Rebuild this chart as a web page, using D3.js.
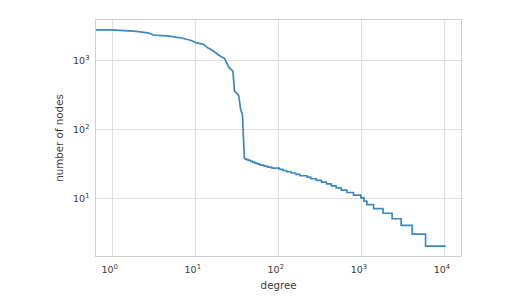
<!DOCTYPE html>
<html>
<head>
<meta charset="utf-8">
<script src="https://cdn.jsdelivr.net/npm/d3@7/dist/d3.min.js"></script>
<style>
  html, body { margin: 0; padding: 0; background: #ffffff; }
  svg { display: block; font-family: "DejaVu Sans", sans-serif; }
</style>
</head>
<body>
<svg id="chart" width="529" height="304"></svg>
<script>
// Head of the curve (drawn with straight segments)
const headDegree = [0, 1, 2, 2.83, 3.2, 3.73, 4.93, 7.15, 9.03, 10.4, 12.7, 14.3, 16.5, 19.5, 22.9, 25.7, 28.8, 30.1, 33.8, 35.7, 37.5, 39.6];
const headNodes  = [2740, 2740, 2600, 2450, 2300, 2270, 2215, 2070, 1918, 1776, 1700, 1500, 1374, 1174, 1051, 786, 688, 353, 308, 191, 162, 37];

// Tail of the curve (integer counts, drawn as steps: value holds from this degree to the next)
const tailDegree = [39.6, 42, 44, 47, 50, 53, 57, 61, 68, 75, 85, 105, 115, 128, 145, 165, 185, 225, 250, 290, 335, 385, 440, 505, 580, 680, 815, 1000, 1090, 1183, 1422, 1849, 2377, 3055, 4150, 6010, 10480];
const tailNodes  = [37, 36, 35, 34, 33, 32, 31, 30, 29, 28, 27, 26, 25, 24, 23, 22, 21, 20, 19, 18, 17, 16, 15, 14, 13, 12, 11, 10, 9, 8, 7, 6, 5, 4, 3, 2, 2];

const xTickExps = [0, 1, 2, 3, 4];
const yTickExps = [1, 2, 3];
const xLabel = "degree";
const yLabel = "number of nodes";

const W = 529, H = 304;
const L = 95, R = 462.3, T = 19, B = 257;

const svg = d3.select("#chart");

// log-space domains with 5% margins (matplotlib-style autoscale)
function logDomain(vals) {
  const pos = vals.filter(v => v > 0);
  const lo = Math.log10(d3.min(pos)), hi = Math.log10(d3.max(pos));
  const m = (hi - lo) * 0.05;
  return [Math.pow(10, lo - m), Math.pow(10, hi + m)];
}
const allX = headDegree.concat(tailDegree);
const allY = headNodes.concat(tailNodes);

const x = d3.scaleLog().domain(logDomain(allX)).range([L, R]);
const y = d3.scaleLog().domain(logDomain(allY)).range([B, T]);
const xLo = x.domain()[0];
const px = v => x(Math.max(v, xLo * 0.5));

// grid
const gridColor = "#dedede";
const grid = svg.append("g");
xTickExps.forEach(e => {
  const gx = Math.round(x(Math.pow(10, e))) + 0.5;
  grid.append("line").attr("x1", gx).attr("x2", gx).attr("y1", T).attr("y2", B)
    .attr("stroke", gridColor).attr("stroke-width", 1);
});
yTickExps.forEach(e => {
  const gy = Math.round(y(Math.pow(10, e))) + 0.5;
  grid.append("line").attr("x1", L).attr("x2", R).attr("y1", gy).attr("y2", gy)
    .attr("stroke", gridColor).attr("stroke-width", 1);
});

// clip
svg.append("clipPath").attr("id", "clip").append("rect")
  .attr("x", L).attr("y", T).attr("width", R - L).attr("height", B - T);

const lineColor = "#3a87c3";
const headData = headDegree.map((d, i) => [d, headNodes[i]]);
const tailData = tailDegree.map((d, i) => [d, tailNodes[i]]);

svg.append("path")
  .attr("clip-path", "url(#clip)")
  .attr("d", d3.line().x(d => px(d[0])).y(d => y(d[1]))(headData))
  .attr("fill", "none").attr("stroke", lineColor).attr("stroke-width", 1.7)
  .attr("stroke-linejoin", "round");

svg.append("path")
  .attr("clip-path", "url(#clip)")
  .attr("d", d3.line().curve(d3.curveStepAfter).x(d => px(d[0])).y(d => y(d[1]))(tailData))
  .attr("fill", "none").attr("stroke", lineColor).attr("stroke-width", 1.7)
  .attr("stroke-linejoin", "round");

// frame
svg.append("rect")
  .attr("x", L + 0.5).attr("y", T + 0.5)
  .attr("width", Math.round(R - L) - 1).attr("height", B - T - 1)
  .attr("fill", "none").attr("stroke", "#cfcfcf").attr("stroke-width", 1);

const textColor = "#3b3b3b";

// x tick labels
xTickExps.forEach(e => {
  const t = svg.append("text")
    .attr("x", x(Math.pow(10, e)) - 2)
    .attr("y", 272.5)
    .attr("text-anchor", "middle")
    .attr("fill", textColor)
    .attr("font-size", 9.5);
  t.append("tspan").text("10");
  t.append("tspan").attr("font-size", 6.8).attr("dy", -4).text(String(e));
});

// y tick labels
yTickExps.forEach(e => {
  const t = svg.append("text")
    .attr("x", 89.5)
    .attr("y", y(Math.pow(10, e)) + 4)
    .attr("text-anchor", "end")
    .attr("fill", textColor)
    .attr("font-size", 9.5);
  t.append("tspan").text("10");
  t.append("tspan").attr("font-size", 6.8).attr("dy", -4).text(String(e));
});

// axis labels
svg.append("text")
  .attr("x", (L + R) / 2).attr("y", 288.5)
  .attr("text-anchor", "middle").attr("fill", textColor).attr("font-size", 10.3)
  .text(xLabel);

svg.append("text")
  .attr("transform", `translate(63,${(T + B) / 2}) rotate(-90)`)
  .attr("text-anchor", "middle").attr("fill", textColor).attr("font-size", 10.3)
  .text(yLabel);
</script>
</body>
</html>
